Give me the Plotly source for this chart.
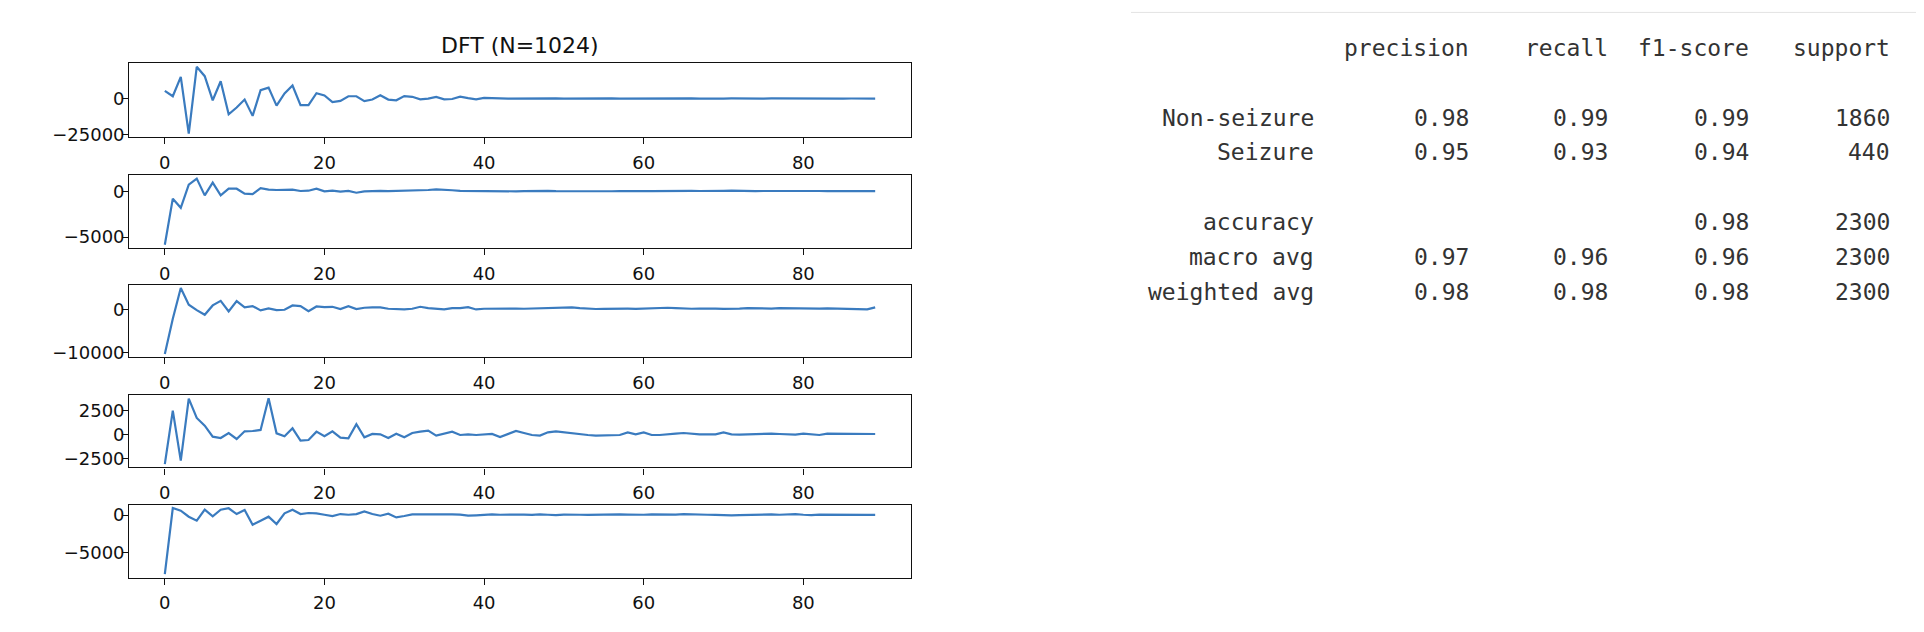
import plotly.graph_objects as go

# ---------------- data ----------------
title_text = "DFT (N=1024)"

dft_1 = [5300, 1600, 15000, -24300, 21980, 15500, -1200, 12000, -10900, -6200,
         -700, -12000, 5800, 7600, -4900, 3500, 9000, -4600, -4600, 3700,
         2100, -2500, -1600, 1600, 1600, -1800, -700, 2300, -700, -1200,
         1700, 1200, -500, -100, 1100, -600, -300, 1300, 300, -500, 500, 500,
         100, -100, 0, 150, 50, -150, 0, 100,
         -50, 50, 150, 0, -100, 50, 100, -50,
         0, 150, -100, -150, 50, 100, 0, -50,
         100, -100, -200, 50, 0, 100, -50, 50,
         -150, 0, 100, 50, -100, -150, 0, 50,
         -50, 100, 0, -50, 50, 0, -50, 0]

dft_2 = [-5840, -800, -1800, 730, 1390, -440, 950, -440, 290, 290,
         -250, -300, 360, 180, 150, 150, 180, 40, 70, 290,
         0, 70, -40, 40, -150, 0,
         40, 60, 30, 50, 80, 60, 100, 150,
         220, 200, 120, 60, 40, 20, 30, 50,
         40, 20, 0, 30, 50, 40, 60, 30,
         20, 40, 70, 50, 30, 20, 10, 40,
         60, 50, 30, 20, 40, 30, 60, 80,
         50, 40, 20, 30, 50, 70, 40, 20,
         30, 40, 50, 30, 20, 40, 50, 30,
         40, 20, 30, 50, 40, 30, 40, 30]

dft_3 = [-10400, -2200, 5000, 1100, -160, -1250, 940, 2000, -470, 1950,
         470, 780, -230, 230, -160, -80, 940, 780, -390, 700,
         550, 620, 80, 780, 80, 390, 470, 470, 160, 80,
         0, 160, 620, 310, 80, 0, 310,
         310, 550, 0, 160, 200, 150, 230, 180,
         160, 200, 250, 300, 350, 400, 470, 300,
         150, 100, 150, 200, 160, 180, 150, 230,
         300, 350, 390, 300, 200, 160, 200, 250,
         200, 150, 100, 200, 300, 250, 160, 200,
         300, 250, 200, 230, 160, 200, 250, 200,
         160, 100, 50, 0, 470]

dft_4 = [-3060, 2500, -2700, 3750, 1740, 940, -210, -350, 170, -450,
         350, 380, 490, 3794, 140, -170, 660, -620, -560, 310,
         -170, 350, -310, -380, 1080, -280, 70, 35, -350, 100,
         -280, 170, 310, 420, -100, 100, 310, -35, 35, -35,
         0, 70, -240, 70, 380, 170, -35, -100, 240, 350,
         240, 170, 35, -35, -100, -70, -35, -35, 240, 35,
         240, -35, -35, 0, 100, 170, 70, 35, 35, 35,
         240, 35, 0, 35, 70, 70, 100, 70, 35, 0,
         100, 0, -35, 100, 100, 140, 70, 100, 70, 70]

dft_5 = [-7836, 928, 570, -220, -750, 710, -180, 710, 900, 130,
         660, -1280, -750, -220, -1190, 220, 710, 130, 270, 220,
         40, -130, 130, 40, 130, 490, 130, -90, 180, -310,
         -130, 90, 90, 90, 130, 180, 90,
         50, -90, -40, 60, 90, 40, 80, 120,
         60, 30, 90, 40, 0, 60, 90, 40,
         20, 60, 100, 40, 80, 60, 20, 40,
         90, 50, 30, 60, 120, 60, 20, 40,
         30, -20, -40, 0, 40, 90, 120, 80,
         40, 90, 120, 40, 0, 60, 40, 20,
         40, 30, 40, 20, 30]

series = [dft_1, dft_2, dft_3, dft_4, dft_5]
y_ticks = [[-25000, 0], [-5000, 0], [-10000, 0], [-2500, 0, 2500], [-5000, 0]]
x_ticks = [0, 20, 40, 60, 80]

report_columns = ["precision", "recall", "f1-score", "support"]
report_rows = ["Non-seizure", "Seizure", "accuracy", "macro avg", "weighted avg"]
precision = ["0.98", "0.95", "", "0.97", "0.98"]
recall = ["0.99", "0.93", "", "0.96", "0.98"]
f1_score = ["0.99", "0.94", "0.98", "0.96", "0.98"]
support = ["1860", "440", "2300", "2300", "2300"]

# ---------------- layout helpers ----------------
OFF = 8                      # page body margin
KY = 0.986                   # observed vertical scale of the capture
W, H = 1924 - 2 * OFF, 625
def px_x(v):
    return (v - OFF) / W
def px_y(v):
    return 1 - (v / KY - OFF) / H

x_left, x_right = 129.3, 910.7
y_boxes = [(63.3, 136.7), (175.0, 247.7), (284.3, 356.7), (394.3, 466.7), (504.0, 576.7)]

fig = go.Figure()
axis_font = dict(family="DejaVu Sans", size=18, color="#111111")

layout = dict(
    width=W, height=H,
    margin=dict(l=0, r=0, t=0, b=0),
    paper_bgcolor="white", plot_bgcolor="white",
    showlegend=False,
)

for k, ys in enumerate(series):
    idx = "" if k == 0 else str(k + 1)
    xs = list(range(len(ys)))
    fig.add_trace(go.Scatter(x=xs, y=ys, mode="lines",
                             line=dict(color="#3a7bbf", width=2.2),
                             xaxis="x" + idx, yaxis="y" + idx,
                             hoverinfo="skip"))
    xmin, xmax = min(xs), max(xs)
    xm = 0.05 * (xmax - xmin)
    ymin, ymax = min(ys), max(ys)
    ym = 0.05 * (ymax - ymin)
    top, bot = y_boxes[k]
    common = dict(showline=True, mirror=True, linecolor="#111111", linewidth=1.3,
                  ticks="outside", ticklen=6, tickwidth=1.3, tickcolor="#111111",
                  showgrid=False, zeroline=False, tickfont=axis_font)
    layout["xaxis" + idx] = dict(domain=[px_x(x_left), px_x(x_right)],
                                 range=[xmin - xm, xmax + xm],
                                 anchor="y" + idx, tickvals=x_ticks,
                                 ticklabelstandoff=3, **common)
    layout["yaxis" + idx] = dict(domain=[px_y(bot), px_y(top)],
                                 range=[ymin - ym, ymax + ym],
                                 anchor="x" + idx, tickvals=y_ticks[k],
                                 tickformat="d", ticklabelstandoff=-6, **common)

annotations = [dict(text=title_text, x=px_x((x_left + x_right) / 2), y=px_y(45),
                    xref="paper", yref="paper", xanchor="center", yanchor="middle",
                    showarrow=False, font=dict(family="DejaVu Sans", size=22, color="#111111"))]

mono = dict(family="DejaVu Sans Mono", size=23, color="#333333")
col_right = [1471, 1610, 1751, 1892]
label_right = 1316
header_y = 48
row_y = [118, 152, 222, 257, 292]

for c, name in enumerate(report_columns):
    annotations.append(dict(text=name, x=px_x(col_right[c]), y=px_y(header_y),
                            xref="paper", yref="paper", xanchor="right", yanchor="middle",
                            showarrow=False, font=mono))
cols = [precision, recall, f1_score, support]
for r, lab in enumerate(report_rows):
    annotations.append(dict(text=lab, x=px_x(label_right), y=px_y(row_y[r]),
                            xref="paper", yref="paper", xanchor="right", yanchor="middle",
                            showarrow=False, font=mono))
    for c, col in enumerate(cols):
        if col[r]:
            annotations.append(dict(text=col[r], x=px_x(col_right[c]), y=px_y(row_y[r]),
                                    xref="paper", yref="paper", xanchor="right", yanchor="middle",
                                    showarrow=False, font=mono))

layout["annotations"] = annotations
layout["shapes"] = [dict(type="line", xref="paper", yref="paper",
                         x0=px_x(1131), x1=1.0, y0=px_y(12.3), y1=px_y(12.3),
                         line=dict(color="#e3e3e3", width=1))]

fig.update_layout(**layout)
fig.write_html("out.html")
